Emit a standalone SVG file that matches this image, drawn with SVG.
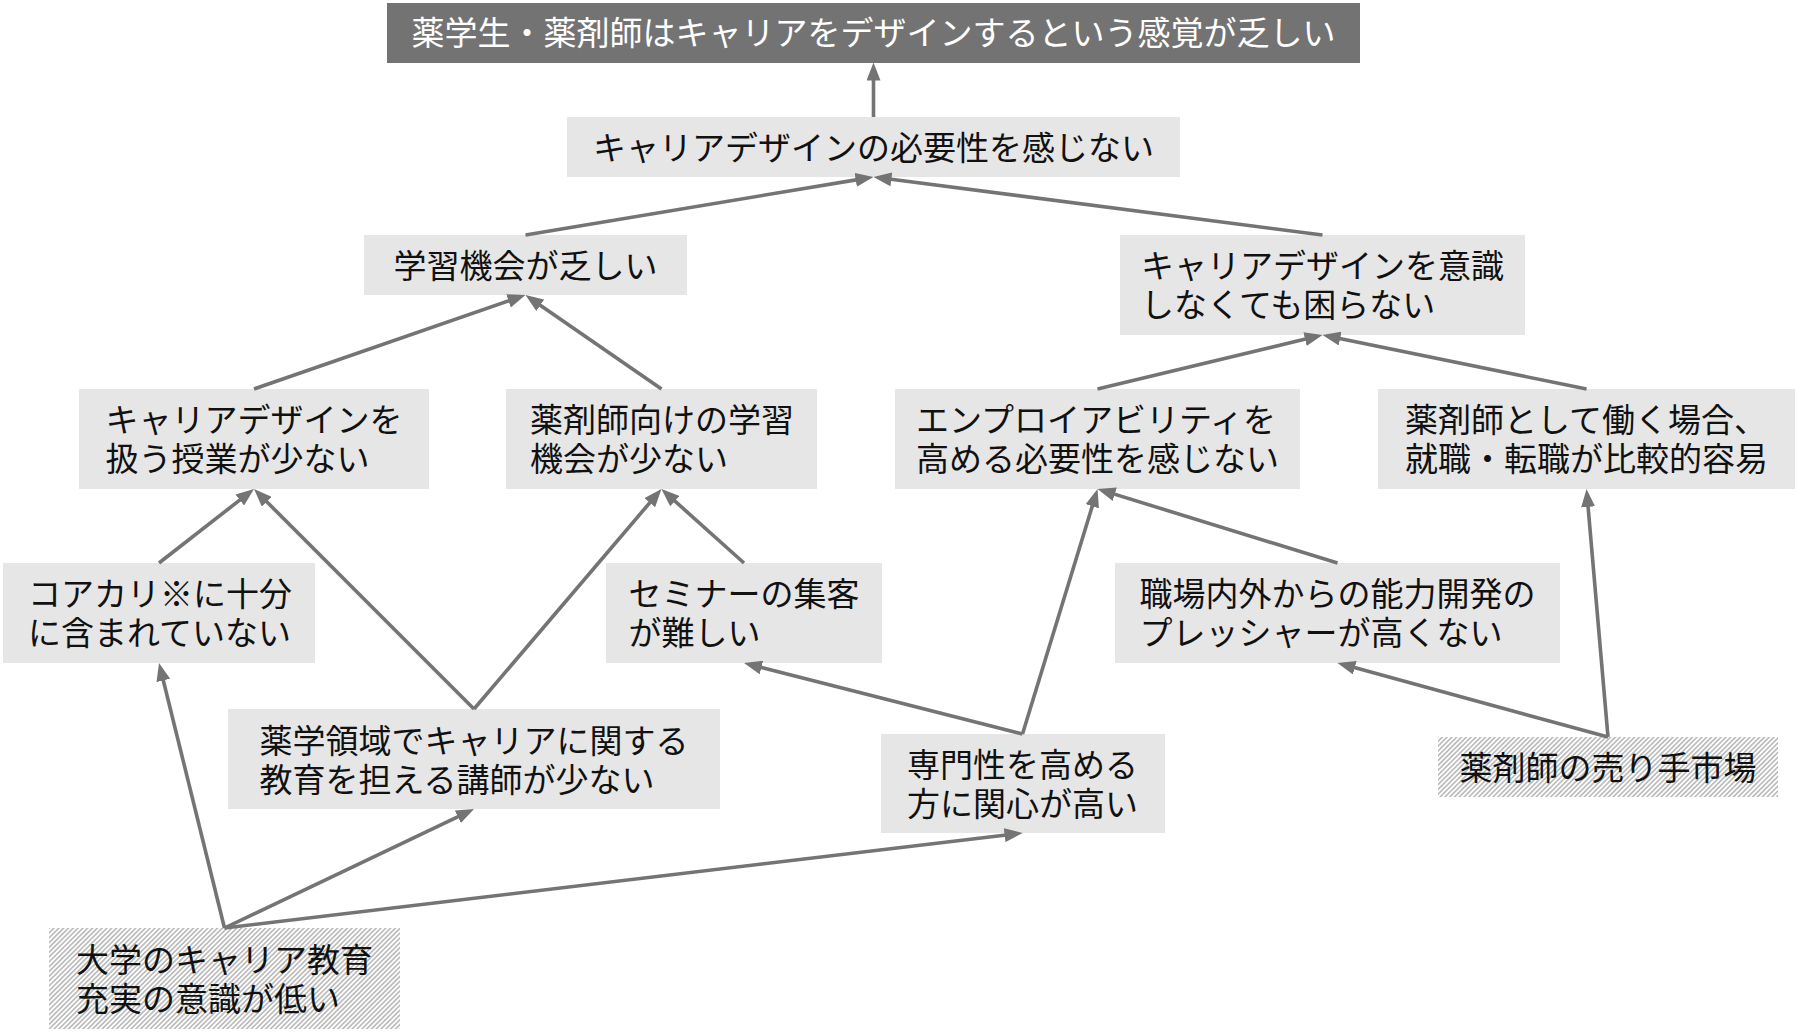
<svg xmlns="http://www.w3.org/2000/svg" width="1800" height="1033" viewBox="0 0 1800 1033">
<style>
.box{fill:#e6e6e6}
.hatch{fill:url(#hatch)}
.top{fill:#737373}
text{font-family:"Noto Sans CJK JP","Noto Sans CJK SC",sans-serif;font-size:33px;fill:#111}
.w{fill:#ffffff}
.m{text-anchor:middle}
.c line{stroke:#747474;stroke-width:3.6;marker-end:url(#ah)}
</style>
<defs>
<marker id="ah" markerUnits="userSpaceOnUse" markerWidth="18" markerHeight="14" refX="8" refY="7" orient="auto">
<path d="M0,0 L18,7 L0,14 z" fill="#747474"/>
</marker>
<pattern id="hatch" width="3.4" height="3.4" patternUnits="userSpaceOnUse" patternTransform="rotate(45)">
<rect width="3.4" height="3.4" fill="#ffffff"/>
<rect width="1.7" height="3.4" fill="#bdbdbd"/>
</pattern>
</defs>
<rect width="1800" height="1033" fill="#ffffff"/>

<g id="n_top"><rect class="top" x="387" y="3" width="973" height="60"/><text class="w m" x="873.5" y="45">薬学生・薬剤師はキャリアをデザインするという感覚が乏しい</text></g>
<g id="n_need"><rect class="box" x="567" y="117" width="613" height="60"/><text class="m" x="873.5" y="159.5">キャリアデザインの必要性を感じない</text></g>
<g id="n_learn"><rect class="box" x="364" y="235" width="323" height="60"/><text class="m" x="525.5" y="277.5">学習機会が乏しい</text></g>
<g id="n_aware"><rect class="box" x="1120" y="235" width="405" height="100"/><text x="1141" y="278">キャリアデザインを意識</text><text x="1141" y="317">しなくても困らない</text></g>
<g id="n_class"><rect class="box" x="79" y="389" width="350" height="100"/><text x="105.5" y="432">キャリアデザインを</text><text x="105.5" y="471">扱う授業が少ない</text></g>
<g id="n_pharm"><rect class="box" x="506" y="389" width="311" height="100"/><text x="530" y="432">薬剤師向けの学習</text><text x="530" y="471">機会が少ない</text></g>
<g id="n_employ"><rect class="box" x="895" y="389" width="405" height="100"/><text x="916" y="432">エンプロイアビリティを</text><text x="916" y="471">高める必要性を感じない</text></g>
<g id="n_job"><rect class="box" x="1378" y="389" width="417" height="100"/><text x="1405" y="432">薬剤師として働く場合、</text><text x="1405" y="471">就職・転職が比較的容易</text></g>
<g id="n_core"><rect class="box" x="3" y="563" width="312" height="100"/><text x="28" y="606">コアカリ※に十分</text><text x="28" y="645">に含まれていない</text></g>
<g id="n_seminar"><rect class="box" x="606" y="563" width="276" height="100"/><text x="628.5" y="606">セミナーの集客</text><text x="628.5" y="645">が難しい</text></g>
<g id="n_pressure"><rect class="box" x="1115" y="563" width="445" height="100"/><text x="1139.5" y="606">職場内外からの能力開発の</text><text x="1139.5" y="645">プレッシャーが高くない</text></g>
<g id="n_teacher"><rect class="box" x="228" y="709" width="492" height="100"/><text x="259.5" y="752.5">薬学領域でキャリアに関する</text><text x="259.5" y="791.5">教育を担える講師が少ない</text></g>
<g id="n_special"><rect class="box" x="881" y="734" width="284" height="99"/><text x="907" y="777">専門性を高める</text><text x="907" y="816">方に関心が高い</text></g>
<g id="n_market"><rect class="hatch" x="1438" y="737" width="340" height="60"/><text class="m" x="1608" y="779.5">薬剤師の売り手市場</text></g>
<g id="n_univ"><rect class="hatch" x="49" y="928" width="351" height="101"/><text x="76" y="972">大学のキャリア教育</text><text x="76" y="1011">充実の意識が低い</text></g>

<g id="connectors" class="c">
<line x1="873.5" y1="117" x2="873.5" y2="72.5"/>
<line x1="525.5" y1="235" x2="863.6" y2="178.6"/>
<line x1="1322.5" y1="235" x2="883.4" y2="178.3"/>
<line x1="254" y1="389" x2="516.05" y2="298.27"/>
<line x1="661.5" y1="389" x2="533.7" y2="300.7"/>
<line x1="1097.5" y1="389" x2="1312.8" y2="337.3"/>
<line x1="1586.5" y1="389" x2="1332.3" y2="337.0"/>
<line x1="159" y1="563" x2="246.1" y2="495.1"/>
<line x1="474" y1="709" x2="261.1" y2="496.1"/>
<line x1="474" y1="709" x2="655.0" y2="496.6"/>
<line x1="744" y1="563" x2="668.9" y2="495.7"/>
<line x1="1022.5" y1="734" x2="753.7" y2="665.5"/>
<line x1="1022.5" y1="734" x2="1094.6" y2="498.6"/>
<line x1="1337.5" y1="563" x2="1107.1" y2="491.9"/>
<line x1="1608" y1="737" x2="1347.1" y2="665.6"/>
<line x1="1608" y1="737" x2="1587.4" y2="499.0"/>
<line x1="224.5" y1="928" x2="161.4" y2="672.7"/>
<line x1="224.5" y1="928" x2="465.0" y2="813.3"/>
<line x1="224.5" y1="928" x2="1012.6" y2="834.2"/>
</g>
</svg>
